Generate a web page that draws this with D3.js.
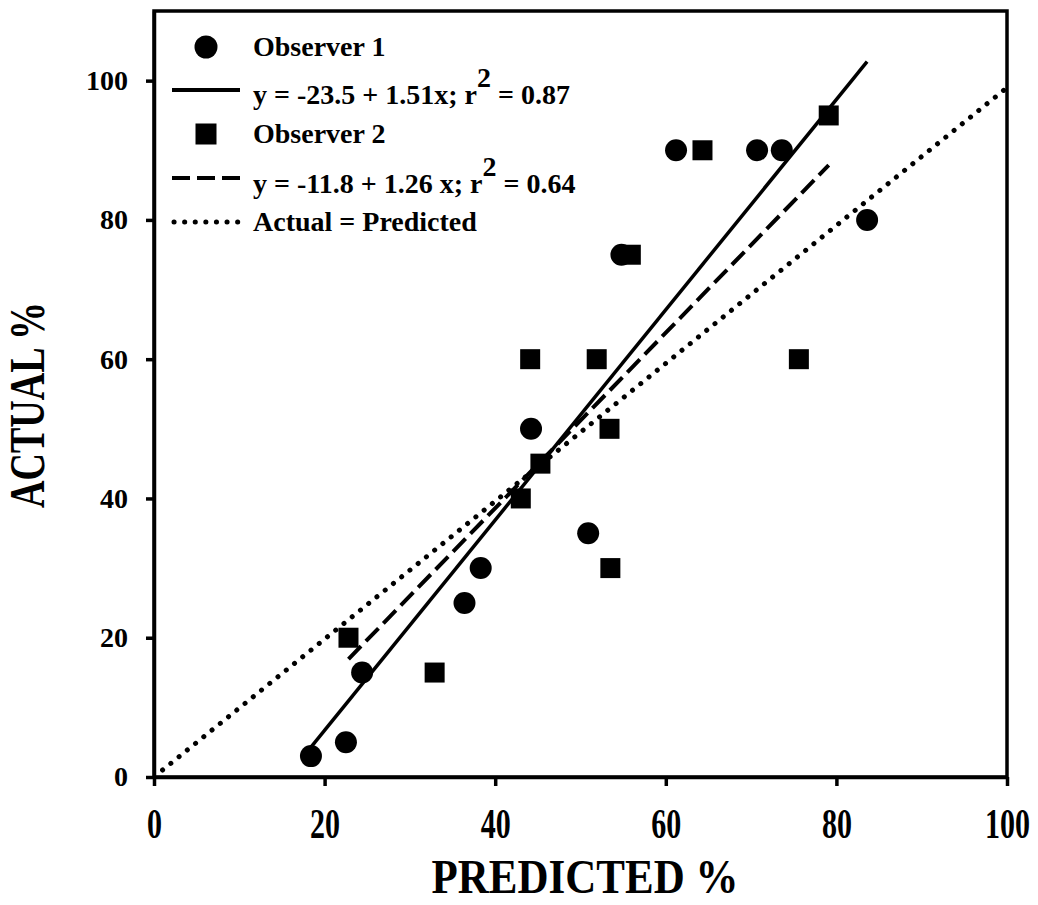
<!DOCTYPE html>
<html>
<head>
<meta charset="utf-8">
<script src="https://cdn.jsdelivr.net/npm/d3@7"></script>
<style>
	body { margin: 0; background: #fff; }
	text { font-family: "Liberation Serif", "Times New Roman", serif; font-weight: bold; fill: #000; }
</style>
</head>
<body>
<div id="chart-area"></div>
<script>
// Dane
var obs1X = [18.4, 22.5, 24.4, 36.4, 38.3, 44.2, 50.9, 54.8, 61.2, 70.7, 73.6, 83.6];
var obs1Y = [3, 5, 15, 25, 30, 50, 35, 75, 90, 90, 90, 80];
var obs2X = [22.8, 32.9, 43.0, 44.1, 45.3, 51.9, 53.4, 53.5, 55.9, 64.3, 75.6, 79.1];
var obs2Y = [20, 15, 40, 60, 45, 60, 50, 30, 75, 90, 60, 95];
var fit1 = { a: -23.5, b: 1.51 };
var fit2 = { a: -11.8, b: 1.26 };
var xTicks = [0, 20, 40, 60, 80, 100];
var yTicks = [0, 20, 40, 60, 80, 100];
var legendLabels = ["Observer 1", "y = -23.5 + 1.51x; r", "Observer 2", "y = -11.8 + 1.26 x; r", "Actual = Predicted"];
var legendSup = [null, " = 0.87", null, " = 0.64", null];
var legendKinds = ["circle", "solid", "square", "dashed", "dotted"];

var W = 1038, H = 905;
var svg = d3.select("#chart-area")
	.append("svg")
	.attr("width", W)
	.attr("height", H);

// Skale
var x = d3.scaleLinear().domain([0, 100]).range([154, 1007]);
var y = d3.scaleLinear().domain([0, 110]).range([777, 11]);

// Ramka
svg.append("rect")
	.attr("x", x(0)).attr("y", y(110))
	.attr("width", x(100) - x(0)).attr("height", y(0) - y(110))
	.attr("fill", "none").attr("stroke", "#000").attr("stroke-width", 3.5);

// Osie
var xAxisCall = d3.axisBottom(x).tickValues(xTicks).tickSize(9).tickSizeOuter(0);
var xg = svg.append("g").attr("transform", "translate(0," + y(0) + ")").call(xAxisCall);
xg.select(".domain").attr("stroke-width", 3.5);
xg.selectAll(".tick line").attr("stroke-width", 3.5);
xg.selectAll(".tick text")
	.attr("y", null).attr("dy", null)
	.attr("transform", "translate(0,61) scale(1,1.4)")
	.style("font-size", "30px");

var yAxisCall = d3.axisLeft(y).tickValues(yTicks).tickSize(8).tickPadding(18).tickSizeOuter(0);
var yg = svg.append("g").attr("transform", "translate(" + x(0) + ",0)").call(yAxisCall);
yg.select(".domain").attr("stroke-width", 3.5);
yg.selectAll(".tick line").attr("stroke-width", 3.5);
yg.selectAll(".tick text").style("font-size", "28px");
xg.selectAll("text").attr("font-family", null);
yg.selectAll("text").attr("font-family", null);

// Etykiety osi
svg.append("text")
	.attr("text-anchor", "middle")
	.attr("transform", "translate(585,893) scale(1,1.15)")
	.style("font-size", "43px")
	.text("PREDICTED %");

svg.append("text")
	.attr("text-anchor", "middle")
	.attr("transform", "translate(44,405) rotate(-90) scale(1,1.35)")
	.style("font-size", "38px")
	.text("ACTUAL %");

// Linie regresji
var line = d3.line().x(d => x(d[0])).y(d => y(d[1]));
var dx1 = d3.extent(obs1X), dx2 = d3.extent(obs2X);

svg.append("path")
	.datum([[1, 1], [100, 99]])
	.attr("d", line)
	.attr("fill", "none").attr("stroke", "#000")
	.attr("stroke-width", 5).attr("stroke-linecap", "round")
	.attr("stroke-dasharray", "0.1 10.5");

svg.append("path")
	.datum(dx2.map(v => [v, fit2.a + fit2.b * v]))
	.attr("d", line)
	.attr("fill", "none").attr("stroke", "#000")
	.attr("stroke-width", 4).attr("stroke-dasharray", "18 7");

svg.append("path")
	.datum([[dx1[0] - 0.9, fit1.a + fit1.b * (dx1[0] - 0.9)], [dx1[1], fit1.a + fit1.b * dx1[1]]])
	.attr("d", line)
	.attr("fill", "none").attr("stroke", "#000")
	.attr("stroke-width", 3.5);

// Punkty
svg.selectAll("circle.obs1")
	.data(obs1X)
	.enter().append("circle")
	.attr("class", "obs1")
	.attr("cx", d => x(d))
	.attr("cy", (d, i) => y(obs1Y[i]))
	.attr("r", 11)
	.attr("fill", "#000");

var sq = 20;
svg.selectAll("rect.obs2")
	.data(obs2X)
	.enter().append("rect")
	.attr("class", "obs2")
	.attr("x", d => x(d) - sq / 2)
	.attr("y", (d, i) => y(obs2Y[i]) - sq / 2)
	.attr("width", sq).attr("height", sq)
	.attr("fill", "#000");

// Legenda
var rowY = [47, 90, 134, 178, 222];
var textY = [56, 104, 143, 193, 231];
var lg = svg.append("g");
legendKinds.forEach((k, i) => {
	if (k === "circle") {
		lg.append("circle").attr("cx", 206).attr("cy", rowY[i]).attr("r", 11.5).attr("fill", "#000");
	} else if (k === "square") {
		lg.append("rect").attr("x", 206 - 10.5).attr("y", rowY[i] - 10.5).attr("width", 21).attr("height", 21).attr("fill", "#000");
	} else {
		var l = lg.append("line")
			.attr("x1", 172).attr("x2", 240)
			.attr("y1", rowY[i]).attr("y2", rowY[i])
			.attr("stroke", "#000");
		if (k === "solid") l.attr("stroke-width", 4);
		if (k === "dashed") l.attr("stroke-width", 4).attr("stroke-dasharray", "18 7");
		if (k === "dotted") l.attr("x1", 174).attr("stroke-width", 5).attr("stroke-linecap", "round").attr("stroke-dasharray", "0.1 10.5");
	}
	var t = lg.append("text")
		.attr("x", 253).attr("y", textY[i])
		.style("font-size", "28px");
	t.append("tspan").text(legendLabels[i]);
	if (legendSup[i]) {
		t.append("tspan").attr("dy", "-0.6em").text("2");
		t.append("tspan").attr("dy", "0.6em").text(legendSup[i]);
	}
});
</script>
</body>
</html>
